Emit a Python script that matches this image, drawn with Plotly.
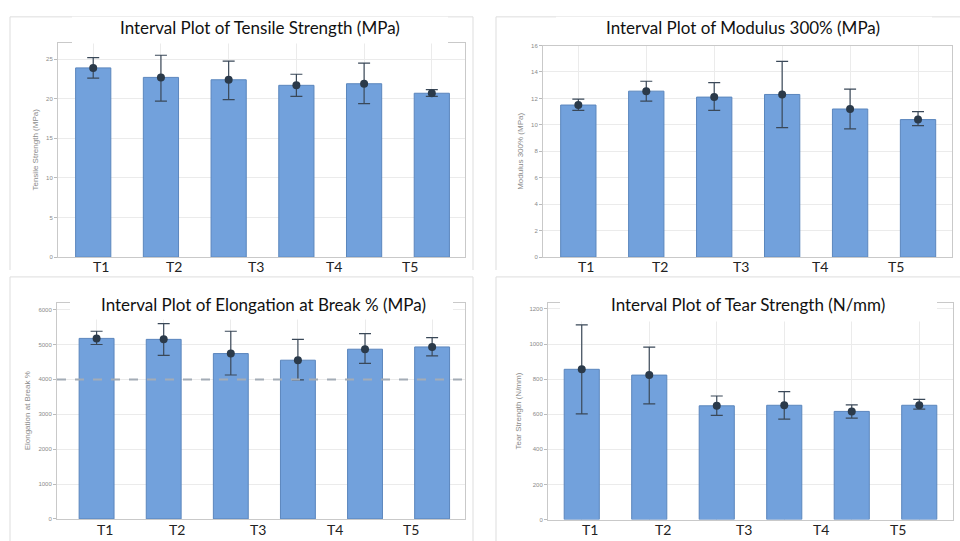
import plotly.graph_objects as go

W, H = 960, 541

# ---------------- data ----------------
groups = [1, 2, 3, 4, 5, 6]
label_pos = [1.12, 2.2, 3.4, 4.55, 5.68]
label_text = ["T1", "T2", "T3", "T4", "T5"]

tensile_mean = [23.9, 22.7, 22.4, 21.7, 21.9, 20.7]
tensile_up = [25.2, 25.5, 24.75, 23.1, 24.5, 21.15]
tensile_lo = [22.6, 19.7, 19.9, 20.3, 19.4, 20.3]

modulus_mean = [11.5, 12.55, 12.1, 12.3, 11.2, 10.4]
modulus_up = [11.95, 13.3, 13.2, 14.8, 12.7, 11.0]
modulus_lo = [11.1, 11.8, 11.1, 9.8, 9.7, 9.95]

elong_mean = [5175, 5147, 4740, 4550, 4865, 4930]
elong_up = [5380, 5600, 5380, 5147, 5310, 5195]
elong_lo = [5000, 4690, 4125, 3985, 4460, 4675]
elong_ref = 4000

tear_mean = [856, 823, 648, 651, 616, 651]
tear_up = [1109, 983, 704, 729, 653, 685]
tear_lo = [602, 659, 593, 572, 578, 629]

titles = ["Interval Plot of Tensile Strength (MPa)",
          "Interval Plot of Modulus 300% (MPa)",
          "Interval Plot of Elongation at Break % (MPa)",
          "Interval Plot of Tear Strength (N/mm)"]
ytitles = ["Tensile Strength (MPa)", "Modulus 300% (MPa)",
           "Elongation at Break %", "Tear Strength (N/mm)"]

# ---------------- layout helpers ----------------
def px(x):
    return x / W

def py(y):
    return 1 - y / H

panels = [
    # plot area (left, top, right, bottom) px, y range, dtick, x range, label row y px
    dict(box=(58, 40, 465, 257), yr=[0, 27.1], dt=5, xr=[0.48, 6.49], ly=266),
    dict(box=(543, 43, 952, 257), yr=[0, 16], dt=2, xr=[0.48, 6.5], ly=266),
    dict(box=(57, 303, 465, 521.7), yr=[0, 6200], dt=1000, xr=[0.41, 6.49], ly=532),
    dict(box=(548, 303, 953, 522.3), yr=[0, 1236], dt=200, xr=[0.5, 6.5], ly=532),
]
data = [(tensile_mean, tensile_up, tensile_lo),
        (modulus_mean, modulus_up, modulus_lo),
        (elong_mean, elong_up, elong_lo),
        (tear_mean, tear_up, tear_lo)]

BAR = "#72a1dc"
BAR_LINE = "#5b86bd"
ERR = "#3a4858"
GRID = "#ebebeb"
AXL = "#c9c9c9"

fig = go.Figure()
layout = dict(width=W, height=H, margin=dict(l=0, r=0, t=0, b=0),
              paper_bgcolor="white", plot_bgcolor="white",
              showlegend=False)
shapes = []
annotations = []

for i, (p, (m, up, lo)) in enumerate(zip(panels, data)):
    n = "" if i == 0 else str(i + 1)
    xa, ya = "x" + n, "y" + n
    l, t, r, b = p["box"]
    fig.add_trace(go.Bar(
        x=groups, y=m, xaxis=xa, yaxis=ya, width=0.52,
        marker=dict(color=BAR, line=dict(color=BAR_LINE, width=1)),
        error_y=dict(type="data", symmetric=False,
                     array=[u - v for u, v in zip(up, m)],
                     arrayminus=[v - d for v, d in zip(m, lo)],
                     color=ERR, thickness=1.2, width=6),
        hoverinfo="skip"))
    fig.add_trace(go.Scatter(
        x=groups, y=m, xaxis=xa, yaxis=ya, mode="markers",
        marker=dict(color="#2b3a4a", size=8), hoverinfo="skip"))
    layout["xaxis" + n] = dict(
        domain=[px(l), px(r)], anchor=ya, range=p["xr"],
        tickmode="array", tickvals=groups, showticklabels=False,
        showgrid=True, gridcolor=GRID, ticks="", zeroline=False,
        showline=True, linecolor=AXL, mirror=True)
    layout["yaxis" + n] = dict(
        domain=[py(b), py(t)], anchor=xa, range=p["yr"], dtick=p["dt"],
        showgrid=True, gridcolor=GRID, zeroline=False,
        showline=True, linecolor=AXL, mirror=True,
        ticks="outside", ticklen=3, tickcolor="#bbbbbb",
        tickfont=dict(family="Liberation Sans", size=6, color="#8a8a8a"),
        title=dict(text=ytitles[i], standoff=6,
                   font=dict(family="Liberation Sans", size=8, color="#8a8a8a")))
    # overlaid group labels
    for pos, txt in zip(label_pos, label_text):
        annotations.append(dict(text=txt, xref=xa, yref="paper", x=pos,
                                y=py(p["ly"]), xanchor="center", yanchor="middle",
                                showarrow=False,
                                font=dict(family="Lato", size=14, color="#222")))

# dashed reference line in elongation panel
shapes.append(dict(type="line", xref="x3 domain", yref="y3", x0=0, x1=1,
                   y0=elong_ref, y1=elong_ref, layer="above",
                   line=dict(color="#a3acb6", width=2, dash="dash")))

# chart frames (decorative)
def frame(l, t, r, b):
    return dict(type="path", xref="paper", yref="paper", layer="below",
                path=f"M{px(l)},{py(b)} L{px(l)},{py(t)} L{px(r)},{py(t)} L{px(r)},{py(b)}",
                line=dict(color="#dddddd", width=1))

shapes += [frame(10, 14, 473, 270), frame(496, 14, 961, 270),
           frame(10, 277, 473, 545), frame(496, 277, 961, 545)]

# title boxes
title_boxes = [(72, 14, 448, 41), (556, 14, 932, 41),
               (70, 282, 453, 320), (560, 290, 937, 322)]
title_centers = [(260, 25), (743, 25), (263, 305), (748, 305)]
for (l, t, r, b), (cx, cy), txt in zip(title_boxes, title_centers, titles):
    shapes.append(dict(type="rect", xref="paper", yref="paper", layer="above",
                       x0=px(l), x1=px(r), y0=py(b), y1=py(t),
                       fillcolor="white", line=dict(width=0)))
    annotations.append(dict(text=txt, xref="paper", yref="paper",
                            x=px(cx), y=py(cy), xanchor="center", yanchor="middle",
                            showarrow=False,
                            font=dict(family="Lato", size=17, color="#111")))

layout["shapes"] = shapes
layout["annotations"] = annotations
fig.update_layout(**layout)
fig.write_html("out.html", config=dict(displayModeBar=False),
               post_script="document.body.style.margin='0px';document.body.style.overflow='hidden';")
